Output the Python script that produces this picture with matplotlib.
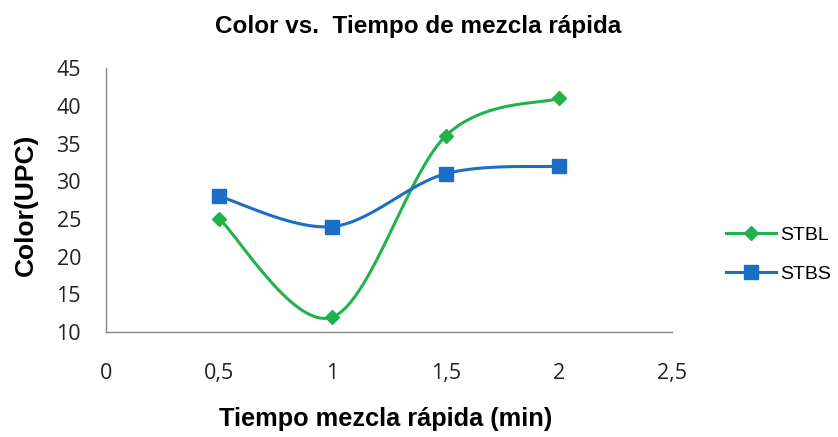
import numpy as np
import matplotlib
matplotlib.use("Agg")
import matplotlib.pyplot as plt
from matplotlib.ticker import FuncFormatter

tiempo = [0.5, 1.0, 1.5, 2.0]
stbl = [25, 12, 36, 41]
stbs = [28, 24, 31, 32]


def smooth(ax, xs, ys, n=40):
    # Excel-style smoothed line: cubic Bezier segments, tension 1/6, built in display space
    pts = ax.transData.transform(np.column_stack([xs, ys]))
    p = np.vstack([pts[0], pts, pts[-1]])
    out = []
    t = np.linspace(0, 1, n)[:, None]
    for i in range(1, len(p) - 2):
        p0, p3 = p[i], p[i + 1]
        p1 = p0 + (p[i + 1] - p[i - 1]) / 6
        p2 = p3 - (p[i + 2] - p[i]) / 6
        seg = (1 - t) ** 3 * p0 + 3 * (1 - t) ** 2 * t * p1 + 3 * (1 - t) * t ** 2 * p2 + t ** 3 * p3
        out.append(seg)
    curve = ax.transData.inverted().transform(np.vstack(out))
    return curve[:, 0], curve[:, 1]


fig = plt.figure(figsize=(8.38, 4.37), dpi=100)
ax = fig.add_axes([0.1265, 0.240, 0.6755, 0.604])
ax.set_xlim(0, 2.5)
ax.set_ylim(10, 45)

green, blue = "#22b24c", "#1a6fc4"
for ys, col, mk, ms, lab in [(stbl, green, "D", 7, "STBL"), (stbs, blue, "s", 9.5, "STBS")]:
    sx, sy = smooth(ax, tiempo, ys)
    ax.plot(sx, sy, color=col, lw=2.2)
    ax.plot(tiempo, ys, ls="none", marker=mk, ms=ms, color=col)
    ax.plot([], [], color=col, lw=2.2, marker=mk, ms=ms, label=lab)

ax.set_xticks(np.arange(0, 2.51, 0.5))
ax.set_yticks(range(10, 46, 5))
ax.xaxis.set_major_formatter(FuncFormatter(lambda v, _: f"{v:g}".replace(".", ",")))
ax.tick_params(length=0, labelsize=15.5, colors="#222222")
ax.tick_params(axis="x", pad=22)
ax.tick_params(axis="y", pad=18)
for lbl in ax.get_xticklabels() + ax.get_yticklabels():
    lbl.set_family("Open Sans")

for s in ["top", "right"]:
    ax.spines[s].set_visible(False)
for s in ["left", "bottom"]:
    ax.spines[s].set_color("#868686")
    ax.spines[s].set_linewidth(1.0)

bold = dict(family="Liberation Sans", fontweight="bold")
fig.text(0.499, 0.924, "Color vs.  Tiempo de mezcla rápida", ha="center", va="baseline", fontsize=17.5, **bold)
fig.text(0.031, 0.531, "Color(UPC)", ha="center", va="center", rotation=90, fontsize=19, **bold)
fig.text(0.46, 0.025, "Tiempo mezcla rápida (min)", ha="center", va="baseline", fontsize=18.3, **bold)

fig.legend(loc="center left", bbox_to_anchor=(0.866, 0.418), frameon=False,
           prop=dict(family="Liberation Sans", size=14), labelspacing=1.1,
           handlelength=2.6, handletextpad=0.2, borderpad=0, borderaxespad=0)

fig.savefig("out.png", dpi=100)
